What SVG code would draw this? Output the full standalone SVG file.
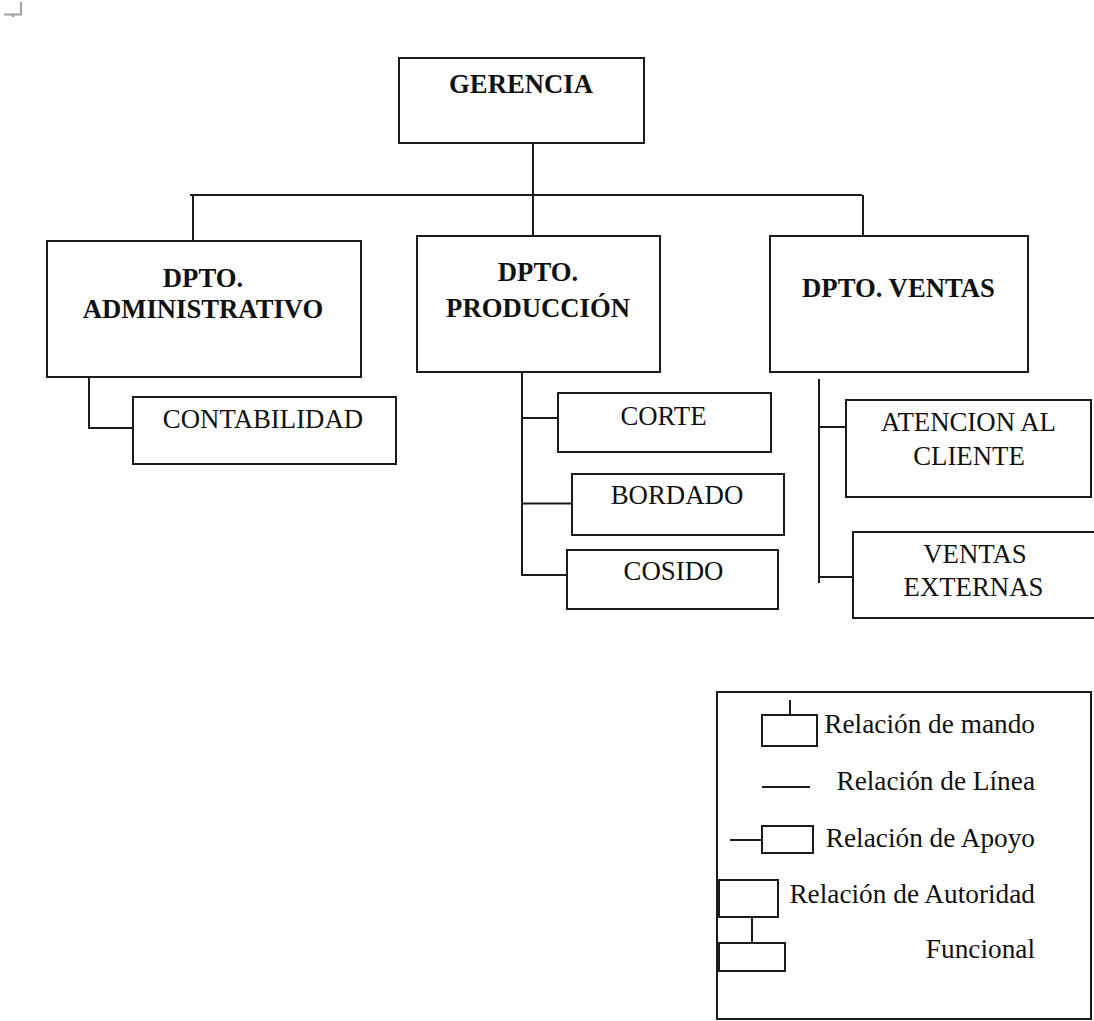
<svg xmlns="http://www.w3.org/2000/svg" width="1094" height="1021" viewBox="0 0 1094 1021">
<style>
  .box { fill: #ffffff; stroke: #1a1a1a; stroke-width: 2; }
  .ln { fill: none; stroke: #1a1a1a; stroke-width: 2; }
  text { font-family: 'Liberation Serif', 'Tinos', 'Times New Roman', 'DejaVu Serif', serif; fill: #111; }
  .hd { font-weight: bold; font-size: 26.7px; text-anchor: middle; }
  .tx { font-size: 26.8px; text-anchor: middle; }
  .lg { font-size: 27.3px; text-anchor: end; }
</style>
<rect width="1094" height="1021" fill="#ffffff"/>
<path d="M4 14.5 H21 V2 M13 14.5 V17" fill="none" stroke="#a0a0a0" stroke-width="2"/>

<g id="connectors">
  <path class="ln" d="M533 143 V195"/>
  <path class="ln" d="M190 195 H862"/>
  <path class="ln" d="M193 195 V241"/>
  <path class="ln" d="M533 195 V236"/>
  <path class="ln" d="M863 195 V236"/>
  <path class="ln" d="M89 377 V428 H133"/>
  <path class="ln" d="M522 372 V575 H567"/>
  <path class="ln" d="M522 418 H558"/>
  <path class="ln" d="M522 503.5 H572"/>
  <path class="ln" d="M819 379 V583"/>
  <path class="ln" d="M819 427 H846"/>
  <path class="ln" d="M819 577 H853"/>
</g>

<g id="gerencia">
  <rect class="box" x="399" y="58" width="245" height="85"/>
  <text class="hd" x="521" y="93" font-family="Liberation Serif, serif">GERENCIA</text>
</g>
<g id="dpto-administrativo">
  <rect class="box" x="47" y="241" width="314" height="136"/>
  <text class="hd" x="203" y="287">DPTO.</text>
  <text class="hd" x="203" y="318">ADMINISTRATIVO</text>
</g>
<g id="dpto-produccion">
  <rect class="box" x="417" y="236" width="243" height="136"/>
  <text class="hd" x="538" y="281">DPTO.</text>
  <text class="hd" x="538" y="317">PRODUCCIÓN</text>
</g>
<g id="dpto-ventas">
  <rect class="box" x="770" y="236" width="258" height="136"/>
  <text class="hd" x="898.5" y="297">DPTO. VENTAS</text>
</g>
<g id="contabilidad">
  <rect class="box" x="133" y="397" width="263" height="67"/>
  <text class="tx" x="263" y="428">CONTABILIDAD</text>
</g>
<g id="corte">
  <rect class="box" x="558" y="393" width="213" height="59"/>
  <text class="tx" x="663.5" y="425">CORTE</text>
</g>
<g id="bordado">
  <rect class="box" x="572" y="474" width="212" height="61"/>
  <text class="tx" x="677" y="504">BORDADO</text>
</g>
<g id="cosido">
  <rect class="box" x="567" y="550" width="211" height="59"/>
  <text class="tx" x="673.5" y="580">COSIDO</text>
</g>
<g id="atencion-al-cliente">
  <rect class="box" x="846" y="400" width="245" height="97"/>
  <text class="tx" x="968.5" y="431">ATENCION AL</text>
  <text class="tx" x="969" y="465">CLIENTE</text>
</g>
<g id="ventas-externas">
  <rect class="box" x="853" y="532" width="260" height="86"/>
  <text class="tx" x="975" y="563">VENTAS</text>
  <text class="tx" x="973.5" y="596">EXTERNAS</text>
</g>

<g id="legend">
  <rect class="box" x="717" y="692" width="374" height="327"/>
  <path class="ln" d="M790 700 V715"/>
  <rect class="box" x="762" y="715" width="55" height="31"/>
  <text class="lg" x="1035" y="733">Relación de mando</text>
  <path class="ln" d="M762 787 H810"/>
  <text class="lg" x="1035" y="790">Relación de Línea</text>
  <path class="ln" d="M730 840 H762"/>
  <rect class="box" x="762" y="826" width="51" height="27"/>
  <text class="lg" x="1035" y="847">Relación de Apoyo</text>
  <rect class="box" x="719" y="880" width="59" height="37"/>
  <path class="ln" d="M752 917 V943"/>
  <rect class="box" x="719" y="943" width="66" height="28"/>
  <text class="lg" x="1035" y="903">Relación de Autoridad</text>
  <text class="lg" x="1035" y="958">Funcional</text>
</g>
</svg>
